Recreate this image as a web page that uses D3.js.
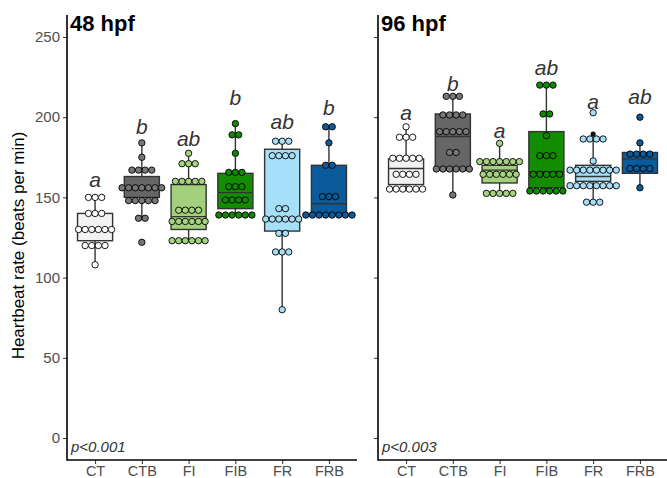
<!DOCTYPE html>
<html>
<head>
<meta charset="utf-8">
<script src="https://cdn.jsdelivr.net/npm/d3@7/dist/d3.min.js"></script>
<style>
  body { margin: 0; background: #fff; }
  svg { display: block; }
</style>
</head>
<body>
<svg id="chart" width="667" height="478"></svg>
<script>
// ── DATA ────────────────────────────────────────────────────────────────
const groups = ['CT', 'CTB', 'FI', 'FIB', 'FR', 'FRB'];
const panelTitles = ['48 hpf', '96 hpf'];
const pValues = ['p<0.001', 'p<0.003'];
const yTicks = [0, 50, 100, 150, 200, 250];

// letters de significativité + hauteur (unités de données)
const letters48 = ['a', 'b', 'ab', 'b', 'ab', 'b'];
const letters96 = ['a', 'b', 'a', 'ab', 'a', 'ab'];
const letterY48 = [161, 194, 187, 212, 197, 206];
const letterY96 = [203, 221, 192, 231, 210, 213];

// boxplot : [min moustache, Q1, médiane, Q3, max moustache]
const box48 = [
  [108, 123, 130, 140, 150],
  [137, 150, 156, 163, 184],
  [123, 130, 138, 158, 177],
  [139, 143, 153, 165, 196],
  [80, 129, 137, 180, 185],
  [139, 139, 146, 170, 194]
];
const box96 = [
  [155, 158, 168, 174, 194],
  [151, 167, 188, 202, 213],
  [152, 159, 167, 170, 184],
  [154, 156, 166, 191, 220],
  [147, 160, 163, 170, 188],
  [156, 165, 174, 178, 184]
];
const outliers96 = [[], [], [], [], [189.5], []];

// dotplot : [valeur du bin, nombre de points]
const dots48 = [
  [[150, 3], [140, 3], [130, 6], [120, 4], [108, 1]],
  [[184, 1], [175, 1], [167, 4], [156, 7], [148, 5], [137, 2], [122, 1]],
  [[177.5, 1], [171, 3], [160, 5], [142, 4], [135, 6], [123, 6]],
  [[196, 1], [189, 2], [177.5, 1], [165.6, 3], [156.7, 3], [148.4, 4], [139, 6]],
  [[185, 3], [176, 4], [143, 2], [136.5, 6], [127.6, 2], [116, 3], [80, 1]],
  [[194, 2], [184, 1], [170, 2], [150.5, 3], [139, 8]]
];
const dots96 = [
  [[194, 1], [187.5, 3], [174.4, 5], [164.4, 4], [155.2, 6]],
  [[213, 3], [201.4, 4], [191, 5], [178, 2], [167.7, 6], [151.5, 1]],
  [[183.7, 1], [172.3, 7], [164.4, 6], [152.5, 5]],
  [[220, 3], [202, 2], [188.5, 1], [176, 3], [164.4, 5], [154, 6]],
  [[202.8, 1], [186.4, 4], [172.7, 1], [167, 8], [157.3, 8], [147, 3]],
  [[200, 1], [184, 1], [177, 4], [168, 4], [156, 1]]
];

const boxColors = ['#f2f2f2', '#666666', '#a3d07c', '#138c00', '#a6dff8', '#0a5b9c'];
const dotColors = ['#ffffff', '#777777', '#a6d37f', '#0f8a00', '#a9def7', '#0b5a9a'];

// ── CHART ───────────────────────────────────────────────────────────────
const svg = d3.select('#chart');
const font = "'Liberation Sans', Arial, Helvetica, sans-serif";
const yTop = 15, yBottom = 460;
const panelX = [[67, 357], [378, 668]];
const dotD = 6.6;

const y = d3.scaleLinear().domain([-13.7, 263.7]).range([yBottom, yTop]);

const panels = [
  { title: panelTitles[0], p: pValues[0], letters: letters48, letterY: letterY48, box: box48, dots: dots48, out: [[], [], [], [], [], []] },
  { title: panelTitles[1], p: pValues[1], letters: letters96, letterY: letterY96, box: box96, dots: dots96, out: outliers96 }
];

panels.forEach((pn, pi) => {
  const [x0, x1] = panelX[pi];
  const x = d3.scalePoint().domain(groups).range([x0, x1]).padding(0.6);
  const bw = x.step() * 0.75;
  const g = svg.append('g');

  // Axes
  const ya = g.append('g').attr('transform', `translate(${x0},0)`)
    .call(d3.axisLeft(y).tickValues(yTicks).tickSize(4).tickPadding(3)
      .tickFormat(pi === 0 ? d3.format('d') : ''));
  ya.select('.domain').remove();
  ya.selectAll('line').attr('stroke', '#333');
  ya.selectAll('text').attr('fill', '#4d4d4d').attr('font-size', '15px').attr('font-family', font);

  const xa = g.append('g').attr('transform', `translate(0,${yBottom})`)
    .call(d3.axisBottom(x).tickSize(4).tickPadding(2));
  xa.select('.domain').remove();
  xa.selectAll('line').attr('stroke', '#333');
  xa.selectAll('text').attr('fill', '#4d4d4d').attr('font-size', '14.5px').attr('font-family', font);

  g.append('line').attr('x1', x0).attr('x2', x0).attr('y1', yTop).attr('y2', yBottom + 0.75)
    .attr('stroke', '#000').attr('stroke-width', 1.6);
  g.append('line').attr('x1', x0).attr('x2', x1).attr('y1', yBottom).attr('y2', yBottom)
    .attr('stroke', '#000').attr('stroke-width', 1.6);

  // Boxes
  groups.forEach((grp, i) => {
    const [lo, q1, med, q3, hi] = pn.box[i];
    const cx = x(grp);
    g.append('line').attr('x1', cx).attr('x2', cx).attr('y1', y(hi)).attr('y2', y(lo))
      .attr('stroke', '#333').attr('stroke-width', 1.4);
    g.append('rect').attr('x', cx - bw / 2).attr('width', bw)
      .attr('y', y(q3)).attr('height', y(q1) - y(q3))
      .attr('fill', boxColors[i]).attr('stroke', '#333').attr('stroke-width', 1.4);
    g.append('line').attr('x1', cx - bw / 2).attr('x2', cx + bw / 2).attr('y1', y(med)).attr('y2', y(med))
      .attr('stroke', '#333').attr('stroke-width', 1.4);

    pn.out[i].forEach(v => {
      g.append('circle').attr('cx', cx).attr('cy', y(v)).attr('r', 2.6).attr('fill', '#111');
    });

    // Dots (centrés par bin)
    pn.dots[i].forEach(([v, n]) => {
      d3.range(n).forEach(k => {
        g.append('circle')
          .attr('cx', cx + (k - (n - 1) / 2) * dotD)
          .attr('cy', y(v))
          .attr('r', dotD / 2 - 0.1)
          .attr('fill', dotColors[i]).attr('stroke', '#000').attr('stroke-width', 0.9);
      });
    });

    g.append('text').attr('x', cx).attr('y', y(pn.letterY[i]))
      .attr('dominant-baseline', 'central').attr('text-anchor', 'middle')
      .attr('font-style', 'italic').attr('font-size', '21px').attr('font-family', font)
      .attr('fill', '#333').text(pn.letters[i]);
  });

  g.append('text').attr('x', x0 + 3).attr('y', 31)
    .attr('font-weight', 'bold').attr('font-size', '22px').attr('font-family', font)
    .attr('fill', '#000').text(pn.title);

  g.append('text').attr('x', x0 + 4).attr('y', 452)
    .attr('font-style', 'italic').attr('font-size', '15px').attr('font-family', font)
    .attr('fill', '#333').text(pn.p);
});

svg.append('text')
  .attr('transform', `translate(24,${(yTop + yBottom) / 2 + 8}) rotate(-90)`)
  .attr('text-anchor', 'middle')
  .attr('font-size', '17px').attr('font-family', font).attr('fill', '#000')
  .text('Heartbeat rate (beats per min)');
</script>
</body>
</html>
